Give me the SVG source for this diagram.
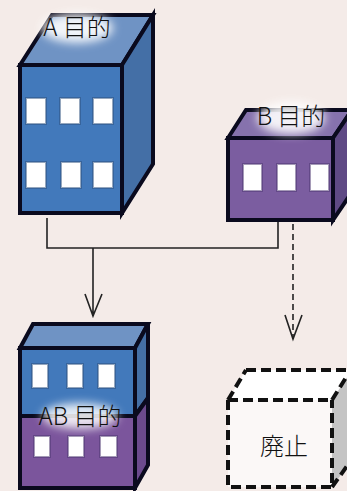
<svg xmlns="http://www.w3.org/2000/svg" width="347" height="491" viewBox="0 0 347 491">
<style>
.e{stroke:#0a0a1e;stroke-width:4;stroke-linejoin:miter}
.w{fill:#fff;stroke-width:2;stroke-opacity:.5}
.bw{stroke:#2c4f7e}
.pw{stroke:#4c3570}
.t{font-family:"Noto Sans CJK JP","Liberation Sans",sans-serif;font-size:24px;font-weight:300;fill:#111;text-anchor:middle}
.c{fill:none;stroke:#222;stroke-width:1.6}
.d{fill:none;stroke:#111;stroke-width:4;stroke-dasharray:10 5}
</style>
<defs>
<filter id="b" x="-30%" y="-50%" width="160%" height="200%"><feGaussianBlur stdDeviation="5"/></filter>
</defs>
<rect width="347" height="491" fill="#f4ebe8"/>
<g id="connectors">
<path class="c" d="M47 218V248H278V221"/>
<path class="c" d="M93 248V316M85 294L93 316L102 294"/>
<path class="c" stroke-dasharray="6 4" d="M293 224V339"/>
<path class="c" d="M285 315L293 339L302 315"/>
</g>
<g id="node-a">
<path class="e" fill="#6f93c4" d="M20 65L52 15H153L122 65Z"/>
<path class="e" fill="#446fa6" d="M122 65L153 15V164L122 213Z"/>
<rect class="e" fill="#4279bb" x="20" y="65" width="102" height="148"/>
<g class="w bw">
<rect x="26" y="98" width="20" height="26"/><rect x="60" y="98" width="20" height="26"/><rect x="93" y="98" width="20" height="26"/>
<rect x="26" y="162" width="20" height="26"/><rect x="61" y="162" width="20" height="26"/><rect x="93" y="162" width="20" height="26"/>
</g>
<ellipse cx="77" cy="28" rx="36" ry="15" fill="#fff" opacity=".9" filter="url(#b)"/>
<text class="t" x="77" y="36">A 目的</text>
</g>
<g id="node-b">
<path class="e" fill="#8672ad" d="M228 138L246 110H352L333 138Z"/>
<path class="e" fill="#5f4a85" d="M333 138L352 110V192L333 220Z"/>
<rect class="e" fill="#7b5da0" x="228" y="138" width="105" height="82"/>
<g class="w pw">
<rect x="243" y="164" width="19" height="27"/><rect x="277" y="164" width="19" height="27"/><rect x="310" y="164" width="19" height="27"/>
</g>
<ellipse cx="291" cy="118" rx="34" ry="16" fill="#fff" opacity=".9" filter="url(#b)"/>
<text class="t" x="291" y="125">B 目的</text>
</g>
<g id="node-ab">
<path class="e" fill="#6f93c4" d="M20 348L33 324H148L135 348Z"/>
<path class="e" fill="#446fa6" d="M135 348L148 324V398L135 416Z"/>
<path class="e" fill="#6b4a8d" d="M135 416L148 398V465L135 488Z"/>
<rect class="e" fill="#4279bb" x="20" y="348" width="115" height="68"/>
<rect class="e" fill="#7b559c" x="20" y="416" width="115" height="72"/>
<g class="w bw">
<rect x="32" y="364" width="16" height="24"/><rect x="67" y="364" width="16" height="24"/><rect x="98" y="364" width="17" height="24"/>
</g>
<g class="w pw">
<rect x="34" y="436" width="16" height="21"/><rect x="68" y="436" width="16" height="21"/><rect x="100" y="436" width="17" height="21"/>
</g>
<ellipse cx="80" cy="416" rx="38" ry="13" fill="#fff" opacity=".85" filter="url(#b)"/>
<text class="t" x="80" y="425">AB 目的</text>
</g>
<g id="node-abolish">
<path fill="#fff" d="M228 400L246 370H352L332 400Z"/>
<path fill="#c4c4c4" d="M332 400L352 370V460L332 487Z"/>
<rect fill="#fbf8f7" x="228" y="400" width="104" height="87"/>
<path class="d" d="M246 370H347M228 400L246 370M228 400H332M332 400L347 376M228 400V487H332V400M332 487L347 466"/>
<text class="t" x="284" y="455" style="font-size:24px">廃止</text>
</g>
</svg>
